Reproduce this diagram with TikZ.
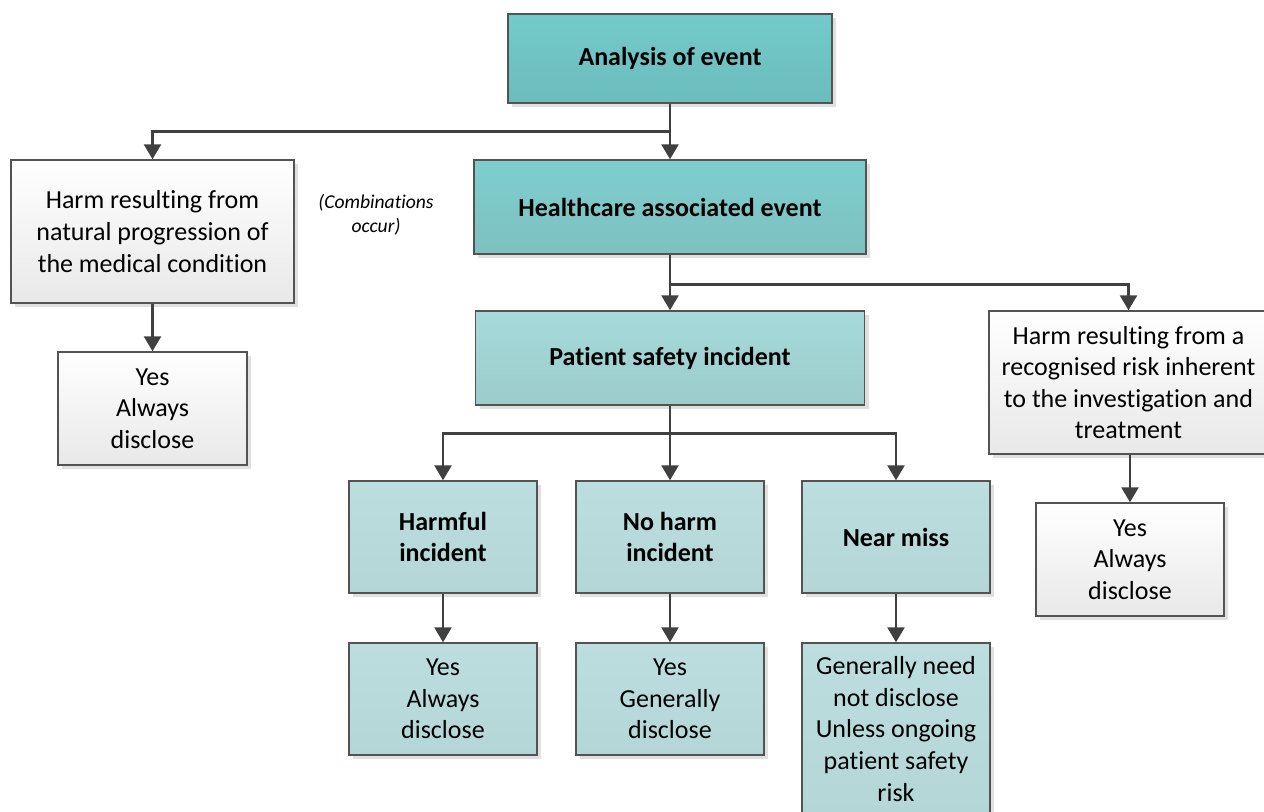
\documentclass[tikz,border=0pt]{standalone}
\usepackage{fontspec}
\setmainfont[Ligatures=NoCommon]{Carlito}
\usetikzlibrary{arrows.meta,shadows}
\definecolor{linegrey}{HTML}{404040}
\tikzstyle{box}=[rectangle,draw=linegrey!90,line width=0.7pt,align=center,inner sep=2pt,
    font=\fontsize{13}{15.8}\selectfont,
    drop shadow={shadow xshift=2pt,shadow yshift=-2pt,fill=black!30,opacity=0.4}]
\tikzstyle{greybox}=[box,top color=white,bottom color=black!9]
\tikzstyle{topbox}=[box,font=\fontsize{13}{15.8}\selectfont\bfseries]
\tikzstyle{hcbox}=[box,top color={rgb,255:red,126;green,206;blue,206},bottom color={rgb,255:red,126;green,192;blue,192},font=\fontsize{13}{15.8}\selectfont\bfseries]
\tikzstyle{psbox}=[box,top color={rgb,255:red,166;green,218;blue,218},bottom color={rgb,255:red,156;green,204;blue,204},font=\fontsize{13}{15.8}\selectfont\bfseries]
\tikzstyle{lowbox}=[box,top color={rgb,255:red,188;green,222;blue,222},bottom color={rgb,255:red,180;green,214;blue,214},minimum width=94pt]
\tikzstyle{edge}=[draw=linegrey,line width=1.25pt,-{Triangle[length=7.5pt,width=8.5pt]}]

\begin{document}
\begin{tikzpicture}[x=0.5pt,y=-0.5pt]
\useasboundingbox (0,0) rectangle (1264,811);

% top of the tree
\node[topbox,top color={rgb,255:red,116;green,202;blue,202},bottom color={rgb,255:red,108;green,188;blue,188},
    minimum width=162pt,minimum height=44.5pt] (analysis) at (670,58.5) {Analysis of event};
\node[greybox,minimum width=141.5pt,minimum height=71.5pt] (natural) at (152.5,231.5)
    {Harm resulting from\\natural progression of\\the medical condition};
\node[font=\fontsize{9.8}{12}\selectfont\itshape,align=center] (combi) at (376,215) {(Combinations\\occur)};
\node[hcbox,minimum width=196pt,minimum height=47pt] (healthcare) at (670,207) {Healthcare associated event};
\node[greybox,minimum width=94.5pt,minimum height=56.5pt] (yesnat) at (152.5,408.5) {Yes\\Always\\disclose};

% second level
\node[psbox,minimum width=194.5pt,minimum height=47pt] (patient) at (670,358) {Patient safety incident};
\node[greybox,minimum width=139.5pt,minimum height=71.5pt] (recognised) at (1128.5,382.5)
    {Harm resulting from a\\recognised risk inherent\\to the investigation and\\treatment};
\node[greybox,minimum width=94pt,minimum height=56.5pt] (yesrec) at (1130,559.5) {Yes\\Always\\disclose};

% incident types
\node[lowbox,minimum height=56pt,font=\fontsize{13}{15.8}\selectfont\bfseries] (harmful) at (443,537) {Harmful\\incident};
\node[lowbox,minimum height=56pt,font=\fontsize{13}{15.8}\selectfont\bfseries] (noharm) at (670,537) {No harm\\incident};
\node[lowbox,minimum height=56pt,font=\fontsize{13}{15.8}\selectfont\bfseries] (nearmiss) at (896,537) {Near miss};
\node[lowbox,minimum height=56pt] (yesharmful) at (443,699) {Yes\\Always\\disclose};
\node[lowbox,minimum height=56pt] (yesnoharm) at (670,699) {Yes\\Generally\\disclose};
\node[lowbox,minimum height=86pt] (nodisclose) at (896,729)
    {Generally need\\not disclose\\Unless ongoing\\patient safety\\risk};

% connectors
\draw[edge] (analysis.south) -- ++(0,28) -| (natural.north);
\draw[edge] (analysis.south) -- (healthcare.north);
\draw[edge] (natural) -- (yesnat);
\draw[edge] (healthcare.south) -- ++(0,30) -| (recognised.north);
\draw[edge] (healthcare) -- (patient);
\draw[edge] (recognised.south -| yesrec.north) -- (yesrec.north);
\draw[edge] (patient.south) -- ++(0,28) -| (harmful.north);
\draw[edge] (patient.south) -- ++(0,28) -| (nearmiss.north);
\draw[edge] (patient.south) -- (noharm.north);
\draw[edge] (harmful) -- (yesharmful);
\draw[edge] (noharm) -- (yesnoharm);
\draw[edge] (nearmiss) -- (nodisclose);
\end{tikzpicture}
\end{document}
